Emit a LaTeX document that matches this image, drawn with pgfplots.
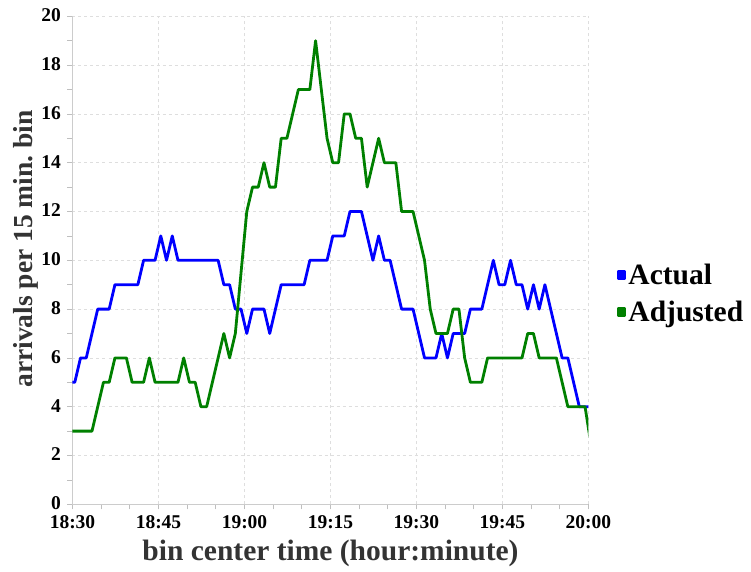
\documentclass[border=0pt]{standalone}
\usepackage{fontspec}
\setmainfont{Liberation Serif}
\usepackage{pgfplots}
\pgfplotsset{compat=1.18}
\usepackage{pgfplotstable}
\definecolor{cblue}{RGB}{0,0,255}
\definecolor{cgreen}{RGB}{0,128,0}

\pgfplotstableread{
t actual adjusted
-0.6 5 3
0.4 5 3
1.4 6 3
2.4 6 3
3.4 7 3
4.4 8 4
5.4 8 5
6.4 8 5
7.4 9 6
8.4 9 6
9.4 9 6
10.4 9 5
11.4 9 5
12.4 10 5
13.4 10 6
14.4 10 5
15.4 11 5
16.4 10 5
17.4 11 5
18.4 10 5
19.4 10 6
20.4 10 5
21.4 10 5
22.4 10 4
23.4 10 4
24.4 10 5
25.4 10 6
26.4 9 7
27.4 9 6
28.4 8 7
29.4 8 9.5
30.4 7 12
31.4 8 13
32.4 8 13
33.4 8 14
34.4 7 13
35.4 8 13
36.4 9 15
37.4 9 15
38.4 9 16
39.4 9 17
40.4 9 17
41.4 10 17
42.4 10 19
43.4 10 17
44.4 10 15
45.4 11 14
46.4 11 14
47.4 11 16
48.4 12 16
49.4 12 15
50.4 12 15
51.4 11 13
52.4 10 14
53.4 11 15
54.4 10 14
55.4 10 14
56.4 9 14
57.4 8 12
58.4 8 12
59.4 8 12
60.4 7 11
61.4 6 10
62.4 6 8
63.4 6 7
64.4 7 7
65.4 6 7
66.4 7 8
67.4 7 8
68.4 7 6
69.4 8 5
70.4 8 5
71.4 8 5
72.4 9 6
73.4 10 6
74.4 9 6
75.4 9 6
76.4 10 6
77.4 9 6
78.4 9 6
79.4 8 7
80.4 9 7
81.4 8 6
82.4 9 6
83.4 8 6
84.4 7 6
85.4 6 5
86.4 6 4
87.4 5 4
88.4 4 4
89.4 4 4
90.4 4 2.5
}\data

\begin{document}
\begin{tikzpicture}
\useasboundingbox (-72.5pt,-66.7pt) rectangle (678.5pt,504.3pt);
\begin{axis}[
  scale only axis, width=516pt, height=488pt,
  at={(0pt,0pt)}, anchor=south west,
  xmin=0, xmax=90, ymin=0, ymax=20,
  axis lines=left,
  axis line style={-, draw=black!20, line width=0.8pt},
  tick align=outside,
  tick style={draw=black!25, line width=0.8pt},
  major tick length=5pt, minor tick length=5pt,
  xtick={0,15,...,90},
  xticklabels={18:30,18:45,19:00,19:15,19:30,19:45,20:00},
  minor x tick num=2,
  ytick={0,2,...,20}, minor y tick num=1,
  grid=major,
  major grid style={dashed, draw=black!13, line width=0.7pt},
  /pgf/number format/assume math mode=true,
  ticklabel style={font=\fontsize{19.5}{19.5}\selectfont\bfseries},
  xticklabel style={yshift=-3pt},
  yticklabel style={xshift=-3pt, yshift=1pt},
  xlabel={bin center time (hour:minute)},
  ylabel={arrivals per 15 min.\ bin},
  label style={text=black!80},
  xlabel style={font=\fontsize{29.5}{29.5}\selectfont\bfseries,
    at={(axis description cs:0.5,-0.100)}, anchor=center},
  ylabel style={font=\fontsize{27.5}{27.5}\selectfont\bfseries,
    at={(axis description cs:-0.090,0.523)}, anchor=center},
  legend cell align=left,
  legend image code/.code={\fill (0pt,-3.5pt) rectangle (7pt,3.5pt);},
  legend style={at={(axis description cs:1,0.432)}, anchor=west, xshift=28pt,
    draw=none, fill=none, font=\fontsize{29.5}{29.5}\selectfont\bfseries,
    row sep=11pt, inner sep=0pt},
]
\addplot[cblue, line width=2.8pt, line join=round] table[x=t, y=actual] {\data};
\addlegendentry{Actual}
\addplot[cgreen, line width=2.8pt, line join=round] table[x=t, y=adjusted] {\data};
\addlegendentry{Adjusted}
\end{axis}
\end{tikzpicture}
\end{document}
